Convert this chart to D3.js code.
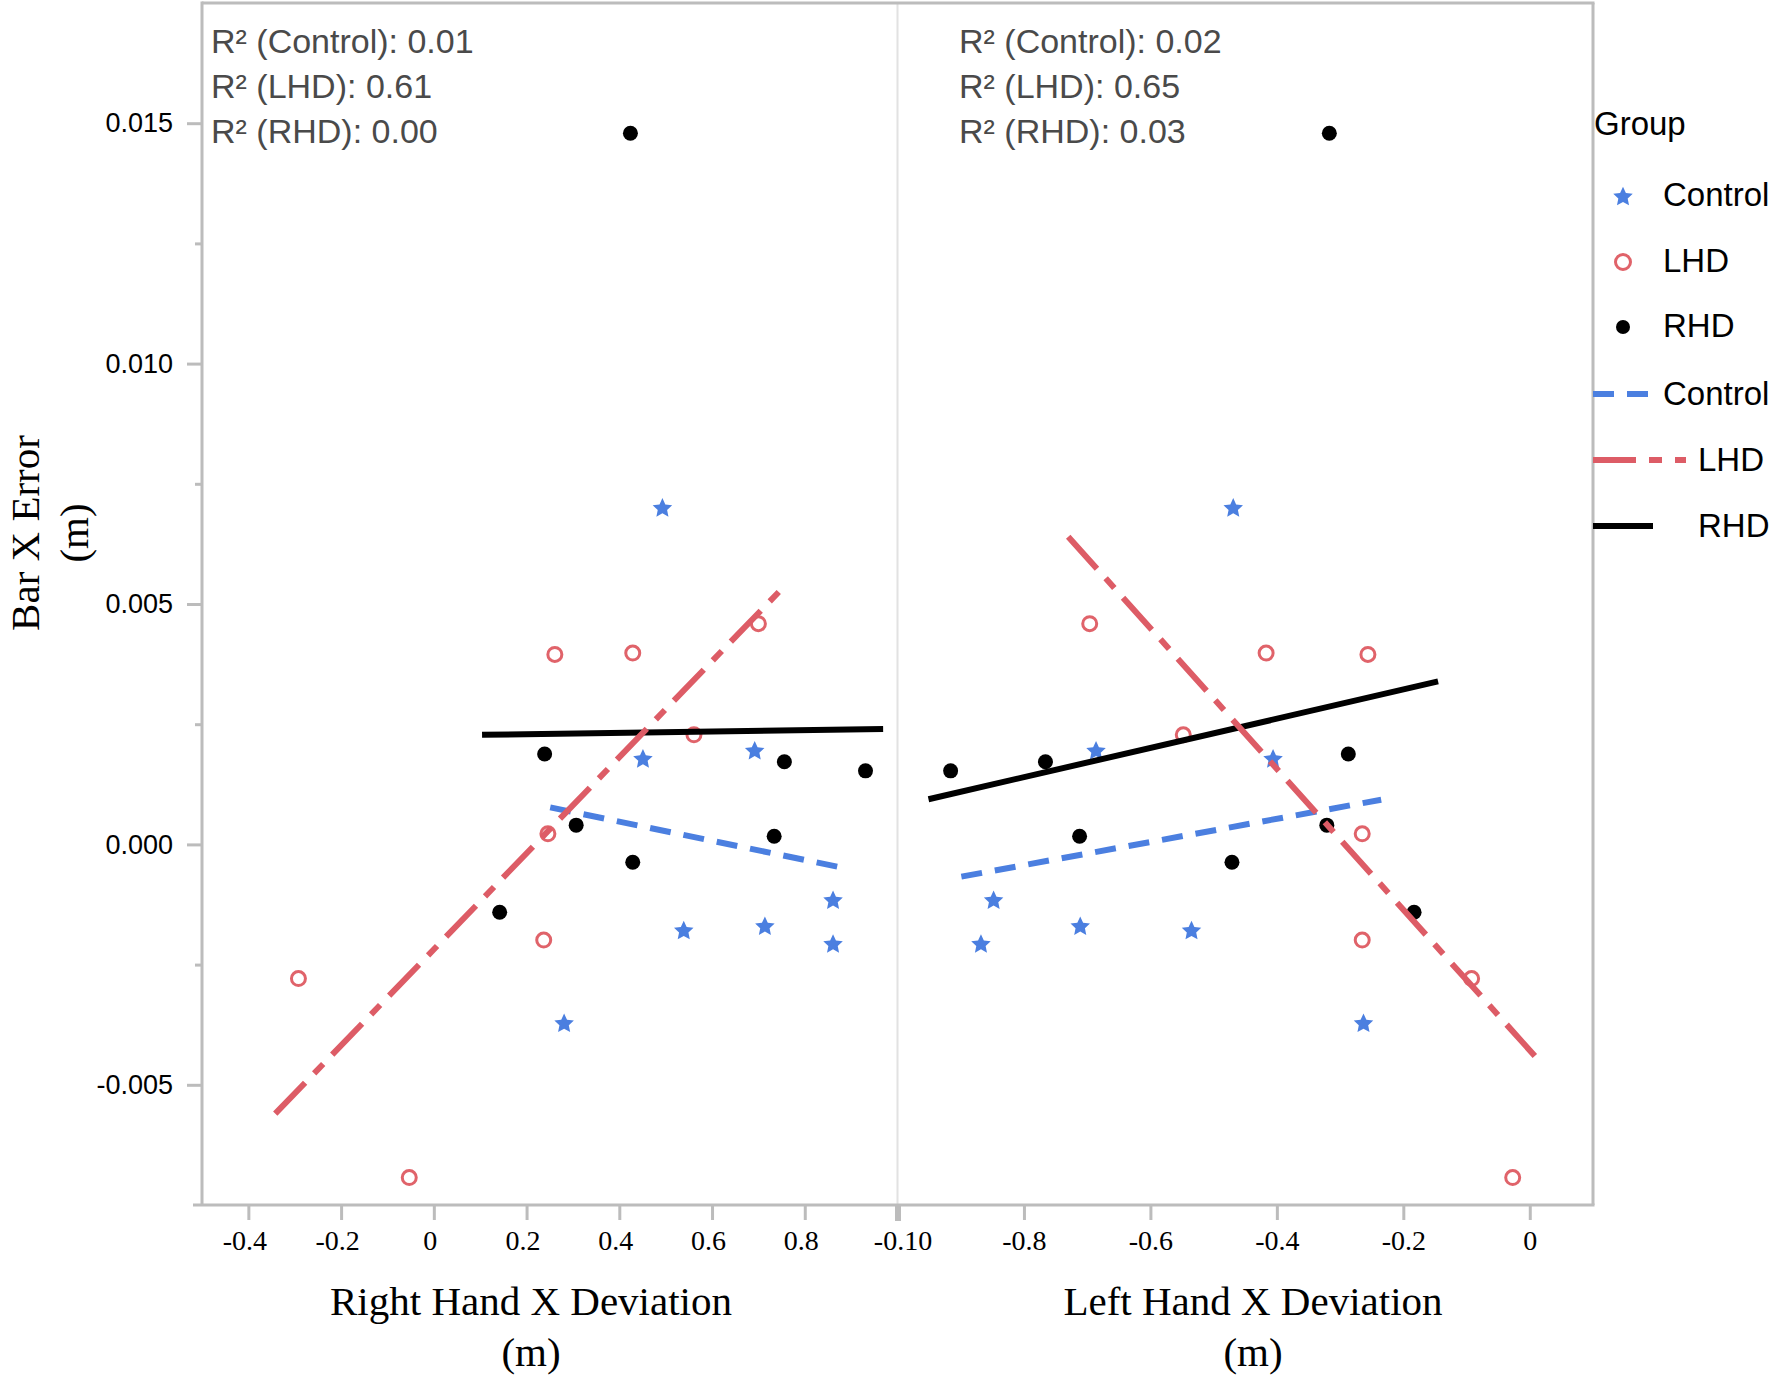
<!DOCTYPE html>
<html>
<head>
<meta charset="utf-8">
<script src="https://cdn.jsdelivr.net/npm/d3@7"></script>
<style>
  html, body { margin: 0; padding: 0; background: #fff; }
  svg { display: block; }
</style>
</head>
<body>
<svg id="chart" width="1772" height="1377"></svg>
<script>
// ---------------- DATA ----------------
const groups = ["Control", "LHD", "RHD"];

// Left panel: Right Hand X Deviation (m) vs Bar X Error (m)
const rightHandControlX = [0.493, 0.451, 0.692, 0.539, 0.714, 0.861, 0.861, 0.281];
const rightHandControlY = [0.00701, 0.00179, 0.00196, -0.00178, -0.00169, -0.00115, -0.00206, -0.00371];
const rightHandLHDX = [0.261, 0.429, 0.700, 0.561, 0.246, 0.237, -0.292, -0.053];
const rightHandLHDY = [0.00395, 0.00398, 0.00459, 0.00228, 0.00022, -0.00199, -0.00279, -0.00693];
const rightHandRHDX = [0.424, 0.239, 0.756, 0.931, 0.307, 0.734, 0.429, 0.142];
const rightHandRHDY = [0.01479, 0.00188, 0.00172, 0.00153, 0.00040, 0.00017, -0.00037, -0.00141];

// Left panel fitted lines (start, end)
const rightHandFitControlX = [0.251, 0.879];
const rightHandFitControlY = [0.00077, -0.00048];
const rightHandFitLHDX = [-0.342, 0.746];
const rightHandFitLHDY = [-0.00560, 0.00527];
const rightHandFitRHDX = [0.104, 0.969];
const rightHandFitRHDY = [0.00228, 0.00240];

// Right panel: Left Hand X Deviation (m) vs Bar X Error (m)
const leftHandControlX = [-0.469, -0.406, -0.686, -0.535, -0.711, -0.848, -0.868, -0.263];
const leftHandControlY = [0.00701, 0.00179, 0.00196, -0.00178, -0.00169, -0.00115, -0.00206, -0.00371];
const leftHandLHDX = [-0.696, -0.417, -0.256, -0.548, -0.265, -0.265, -0.092, -0.027];
const leftHandLHDY = [0.00459, 0.00398, 0.00395, 0.00228, 0.00022, -0.00199, -0.00279, -0.00693];
const leftHandRHDX = [-0.317, -0.287, -0.766, -0.916, -0.321, -0.712, -0.471, -0.183];
const leftHandRHDY = [0.01479, 0.00188, 0.00172, 0.00153, 0.00040, 0.00017, -0.00037, -0.00141];

// Right panel fitted lines (start, end)
const leftHandFitControlX = [-0.899, -0.235];
const leftHandFitControlY = [-0.00067, 0.00093];
const leftHandFitLHDX = [-0.730, 0.008];
const leftHandFitLHDY = [0.00640, -0.00440];
const leftHandFitRHDX = [-0.951, -0.145];
const leftHandFitRHDY = [0.00094, 0.00339];

// R² annotations
const r2Left = ["0.01", "0.61", "0.00"];
const r2Right = ["0.02", "0.65", "0.03"];

// Tick values / labels
const yTicks = [-0.005, 0.000, 0.005, 0.010, 0.015];
const yTickLabels = ["-0.005", "0.000", "0.005", "0.010", "0.015"];
const yMinorTicks = [-0.0025, 0.0025, 0.0075, 0.0125];
const xLeftTicks = [-0.4, -0.2, 0, 0.2, 0.4, 0.6, 0.8];
const xLeftTickLabels = ["-0.4", "-0.2", "0", "0.2", "0.4", "0.6", "0.8"];
const xRightTicks = [-1.0, -0.8, -0.6, -0.4, -0.2, 0];
const xRightTickLabels = ["-0.10", "-0.8", "-0.6", "-0.4", "-0.2", "0"];

// ---------------- STYLE ----------------
const colors = { Control: "#4b7fe0", LHD: "#dd5c66", RHD: "#000000" };
const dashes = { Control: "21,13", LHD: "43,13,13,13", RHD: null };
const axisGray = "#bcbcbc";
const sans = "'Liberation Sans', Arial, Helvetica, sans-serif";
const serif = "'Liberation Serif', 'Times New Roman', Times, serif";

// ---------------- SCALES ----------------
const svg = d3.select("#chart");
const y = d3.scaleLinear().domain([-0.0075, 0.0175]).range([1205, 3]);
const xL = d3.scaleLinear().domain([-0.5, 1.0]).range([202, 897.5]);
const xR = d3.scaleLinear().domain([-1.0, 0.1]).range([897.5, 1593]);

// ---------------- FRAME ----------------
const frame = svg.append("g");
frame.append("line").attr("x1", xR(-1.0)).attr("x2", xR(-1.0)).attr("y1", y.range()[1]).attr("y2", y.range()[0])
  .attr("stroke", "#e2e2e2").attr("stroke-width", 2);
frame.append("line").attr("x1", xL.range()[0]).attr("x2", xR.range()[1] + 1.5).attr("y1", y.range()[1]).attr("y2", y.range()[1])
  .attr("stroke", axisGray).attr("stroke-width", 3);
frame.append("line").attr("x1", xR.range()[1]).attr("x2", xR.range()[1]).attr("y1", y.range()[1]).attr("y2", y.range()[0])
  .attr("stroke", axisGray).attr("stroke-width", 3);
frame.append("line").attr("x1", xL.range()[0]).attr("x2", xL.range()[0]).attr("y1", y.range()[1] - 1.5).attr("y2", y.range()[0])
  .attr("stroke", axisGray).attr("stroke-width", 3);
frame.append("line").attr("x1", xL.range()[0] - 9).attr("x2", xR.range()[1] + 1.5).attr("y1", y.range()[0]).attr("y2", y.range()[0])
  .attr("stroke", axisGray).attr("stroke-width", 3);

// ---------------- AXES ----------------
function styleAxis(g, font, size) {
  g.select(".domain").remove();
  g.selectAll(".tick line").attr("stroke", axisGray).attr("stroke-width", 3);
  g.selectAll(".tick text").attr("fill", "#000").style("font-family", font).style("font-size", size + "px");
}

const yAxis = svg.append("g").attr("transform", `translate(${xL.range()[0]},0)`)
  .call(d3.axisLeft(y).tickValues(yTicks).tickSize(15).tickPadding(14)
    .tickFormat((d, i) => yTickLabels[i]));
styleAxis(yAxis, sans, 27);

const yMinor = svg.append("g").attr("transform", `translate(${xL.range()[0]},0)`)
  .call(d3.axisLeft(y).tickValues(yMinorTicks).tickSize(7).tickFormat(""));
styleAxis(yMinor, sans, 27);

const xAxisL = svg.append("g").attr("transform", `translate(0,${y.range()[0]})`)
  .call(d3.axisBottom(xL).tickValues(xLeftTicks).tickSize(15).tickPadding(10)
    .tickFormat((d, i) => xLeftTickLabels[i]));
styleAxis(xAxisL, serif, 28);
xAxisL.selectAll(".tick text").attr("dx", -4);

const xAxisR = svg.append("g").attr("transform", `translate(0,${y.range()[0]})`)
  .call(d3.axisBottom(xR).tickValues(xRightTicks).tickSize(15).tickPadding(10)
    .tickFormat((d, i) => xRightTickLabels[i]));
styleAxis(xAxisR, serif, 28);
xAxisR.selectAll(".tick").filter(d => d === -1.0).select("line").attr("stroke-width", 6).attr("y2", 16);
xAxisR.selectAll(".tick").filter(d => d === -1.0).select("text").attr("dx", 5);

// ---------------- AXIS TITLES ----------------
function twoLine(xc, yb, lines, rotate, gap) {
  const t = svg.append("text").style("font-family", serif).style("font-size", "41px").attr("fill", "#000")
    .attr("text-anchor", "middle");
  if (rotate) {
    t.attr("transform", `translate(${xc},${yb}) rotate(-90)`);
    lines.forEach((l, i) => t.append("tspan").attr("x", 0).attr("y", i * gap).text(l));
  } else {
    lines.forEach((l, i) => t.append("tspan").attr("x", xc).attr("y", yb + i * gap).text(l));
  }
}
twoLine(531, 1315, ["Right Hand X Deviation", "(m)"], false, 51);
twoLine(1253, 1315, ["Left Hand X Deviation", "(m)"], false, 51);
twoLine(39, 533, ["Bar X Error", "(m)"], true, 49);

// ---------------- MARKS ----------------
// a fuller five-pointed star (inner radius about half the outer radius)
const fatStar = {
  draw(context, size) {
    const R = Math.sqrt(size) / 1.9, r = R * 0.48;
    for (let i = 0; i < 10; i++) {
      const a = -Math.PI / 2 + i * Math.PI / 5;
      const rad = i % 2 === 0 ? R : r;
      const px = Math.cos(a) * rad, py = Math.sin(a) * rad;
      if (i === 0) context.moveTo(px, py); else context.lineTo(px, py);
    }
    context.closePath();
  }
};
const star = d3.symbol().type(fatStar).size(380);

function drawPanel(x, data, fits) {
  const g = svg.append("g");
  groups.forEach(grp => {
    const pts = data[grp].x.map((v, i) => [v, data[grp].y[i]]);
    if (grp === "Control") {
      g.selectAll(null).data(pts).enter().append("path")
        .attr("d", star).attr("transform", d => `translate(${x(d[0])},${y(d[1]) + 1})`)
        .attr("fill", colors.Control);
    } else if (grp === "LHD") {
      g.selectAll(null).data(pts).enter().append("circle")
        .attr("cx", d => x(d[0])).attr("cy", d => y(d[1])).attr("r", 7)
        .attr("fill", "none").attr("stroke", "#e0636a").attr("stroke-width", 3);
    } else {
      g.selectAll(null).data(pts).enter().append("circle")
        .attr("cx", d => x(d[0])).attr("cy", d => y(d[1])).attr("r", 7.5)
        .attr("fill", colors.RHD);
    }
  });
  const line = d3.line().x(d => x(d[0])).y(d => y(d[1]));
  ["RHD", "Control", "LHD"].forEach(grp => {
    const pts = fits[grp].x.map((v, i) => [v, fits[grp].y[i]]);
    g.append("path").attr("d", line(pts)).attr("fill", "none")
      .attr("stroke", colors[grp]).attr("stroke-width", 6)
      .attr("stroke-dasharray", dashes[grp]);
  });
}

drawPanel(xL,
  { Control: { x: rightHandControlX, y: rightHandControlY },
    LHD: { x: rightHandLHDX, y: rightHandLHDY },
    RHD: { x: rightHandRHDX, y: rightHandRHDY } },
  { Control: { x: rightHandFitControlX, y: rightHandFitControlY },
    LHD: { x: rightHandFitLHDX, y: rightHandFitLHDY },
    RHD: { x: rightHandFitRHDX, y: rightHandFitRHDY } });

drawPanel(xR,
  { Control: { x: leftHandControlX, y: leftHandControlY },
    LHD: { x: leftHandLHDX, y: leftHandLHDY },
    RHD: { x: leftHandRHDX, y: leftHandRHDY } },
  { Control: { x: leftHandFitControlX, y: leftHandFitControlY },
    LHD: { x: leftHandFitLHDX, y: leftHandFitLHDY },
    RHD: { x: leftHandFitRHDX, y: leftHandFitRHDY } });

// ---------------- R² ANNOTATIONS ----------------
function r2Block(x0, vals) {
  groups.forEach((grp, i) => {
    svg.append("text").attr("x", x0).attr("y", 53 + i * 45)
      .style("font-family", sans).style("font-size", "34px").attr("fill", "#4a4a4a")
      .text(`R² (${grp}): ${vals[i]}`);
  });
}
r2Block(211, r2Left);
r2Block(959, r2Right);

// ---------------- LEGEND ----------------
const lg = svg.append("g").style("font-family", sans).style("font-size", "33px");
lg.append("text").attr("x", 1594).attr("y", 135).attr("fill", "#000").text("Group");
const symRows = [196, 262, 327];
groups.forEach((grp, i) => {
  const cy = symRows[i];
  if (grp === "Control") {
    lg.append("path").attr("d", star).attr("transform", `translate(1623,${cy + 1})`).attr("fill", colors.Control);
  } else if (grp === "LHD") {
    lg.append("circle").attr("cx", 1623).attr("cy", cy).attr("r", 7.5).attr("fill", "none")
      .attr("stroke", "#e0636a").attr("stroke-width", 3);
  } else {
    lg.append("circle").attr("cx", 1623).attr("cy", cy).attr("r", 7).attr("fill", "#000");
  }
  lg.append("text").attr("x", 1663).attr("y", cy + 10).attr("fill", "#000").text(grp);
});
const lineRows = [394, 460, 526];
const lineEnds = { Control: 1649, LHD: 1686, RHD: 1653 };
const lineTextX = { Control: 1663, LHD: 1698, RHD: 1698 };
groups.forEach((grp, i) => {
  const cy = lineRows[i];
  lg.append("line").attr("x1", 1593).attr("x2", lineEnds[grp]).attr("y1", cy).attr("y2", cy)
    .attr("stroke", colors[grp]).attr("stroke-width", 6).attr("stroke-dasharray", dashes[grp]);
  lg.append("text").attr("x", lineTextX[grp]).attr("y", cy + 11).attr("fill", "#000").text(grp);
});
</script>
</body>
</html>
